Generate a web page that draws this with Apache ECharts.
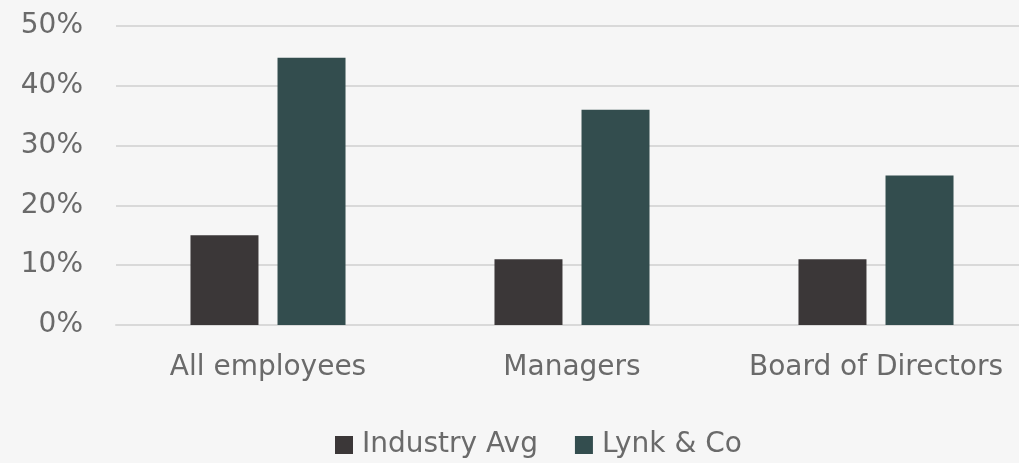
<!DOCTYPE html>
<html>
<head>
  <meta charset="utf-8">
  <script src="https://cdn.jsdelivr.net/npm/echarts@6/dist/echarts.min.js"></script>
  <style>
    html, body { margin: 0; padding: 0; background: #f6f6f6; }
    #main { width: 1019px; height: 463px; }
  </style>
</head>
<body>
  <div id="main"></div>
  <script type="text/javascript">
    // data
    var categories = ['All employees', 'Managers', 'Board of Directors'];
    var industryAvg = [15, 11, 11];
    var lynkCo = [44.7, 36, 25];
    var yTicks = [0, 10, 20, 30, 40, 50];

    var myChart = echarts.init(document.getElementById('main'));
    var textColor = '#6a6a6a';
    var font = '"DejaVu Sans", "Open Sans", sans-serif';

    var option = {
      backgroundColor: '#f6f6f6',
      animation: false,
      textStyle: { fontFamily: font },
      grid: { left: 116, width: 912, top: 26, bottom: 138, outerBoundsMode: 'none', containLabel: false },
      legend: {
        bottom: 4,
        left: 335,
        padding: 0,
        itemWidth: 18,
        itemHeight: 18,
        itemGap: 37,
        icon: 'rect',
        textStyle: { fontSize: 28, color: textColor, fontFamily: font, padding: [0, 0, 0, 4] },
        data: ['Industry Avg', 'Lynk & Co']
      },
      xAxis: {
        type: 'category',
        data: categories,
        axisLine: { show: true, lineStyle: { color: '#d9d9d9', width: 2 } },
        axisTick: { show: false },
        axisLabel: { color: textColor, fontSize: 28, margin: 29, interval: 0, hideOverlap: false, fontFamily: font }
      },
      yAxis: {
        type: 'value',
        min: yTicks[0],
        max: yTicks[yTicks.length - 1],
        interval: 10,
        axisLine: { show: false },
        axisTick: { show: false },
        splitLine: { lineStyle: { color: '#d9d9d9', width: 2 } },
        axisLabel: {
          color: textColor, fontSize: 28, margin: 33, fontFamily: font,
          formatter: function (v) { return v + '%'; }
        }
      },
      series: [{
        name: 'Industry Avg',
        type: 'bar',
        data: industryAvg,
        barWidth: 68,
        barGap: '28%',
        itemStyle: { color: '#3b3738' }
      }, {
        name: 'Lynk & Co',
        type: 'bar',
        data: lynkCo,
        barWidth: 68,
        itemStyle: { color: '#334d4e' }
      }]
    };
    myChart.setOption(option);
  </script>
</body>
</html>
